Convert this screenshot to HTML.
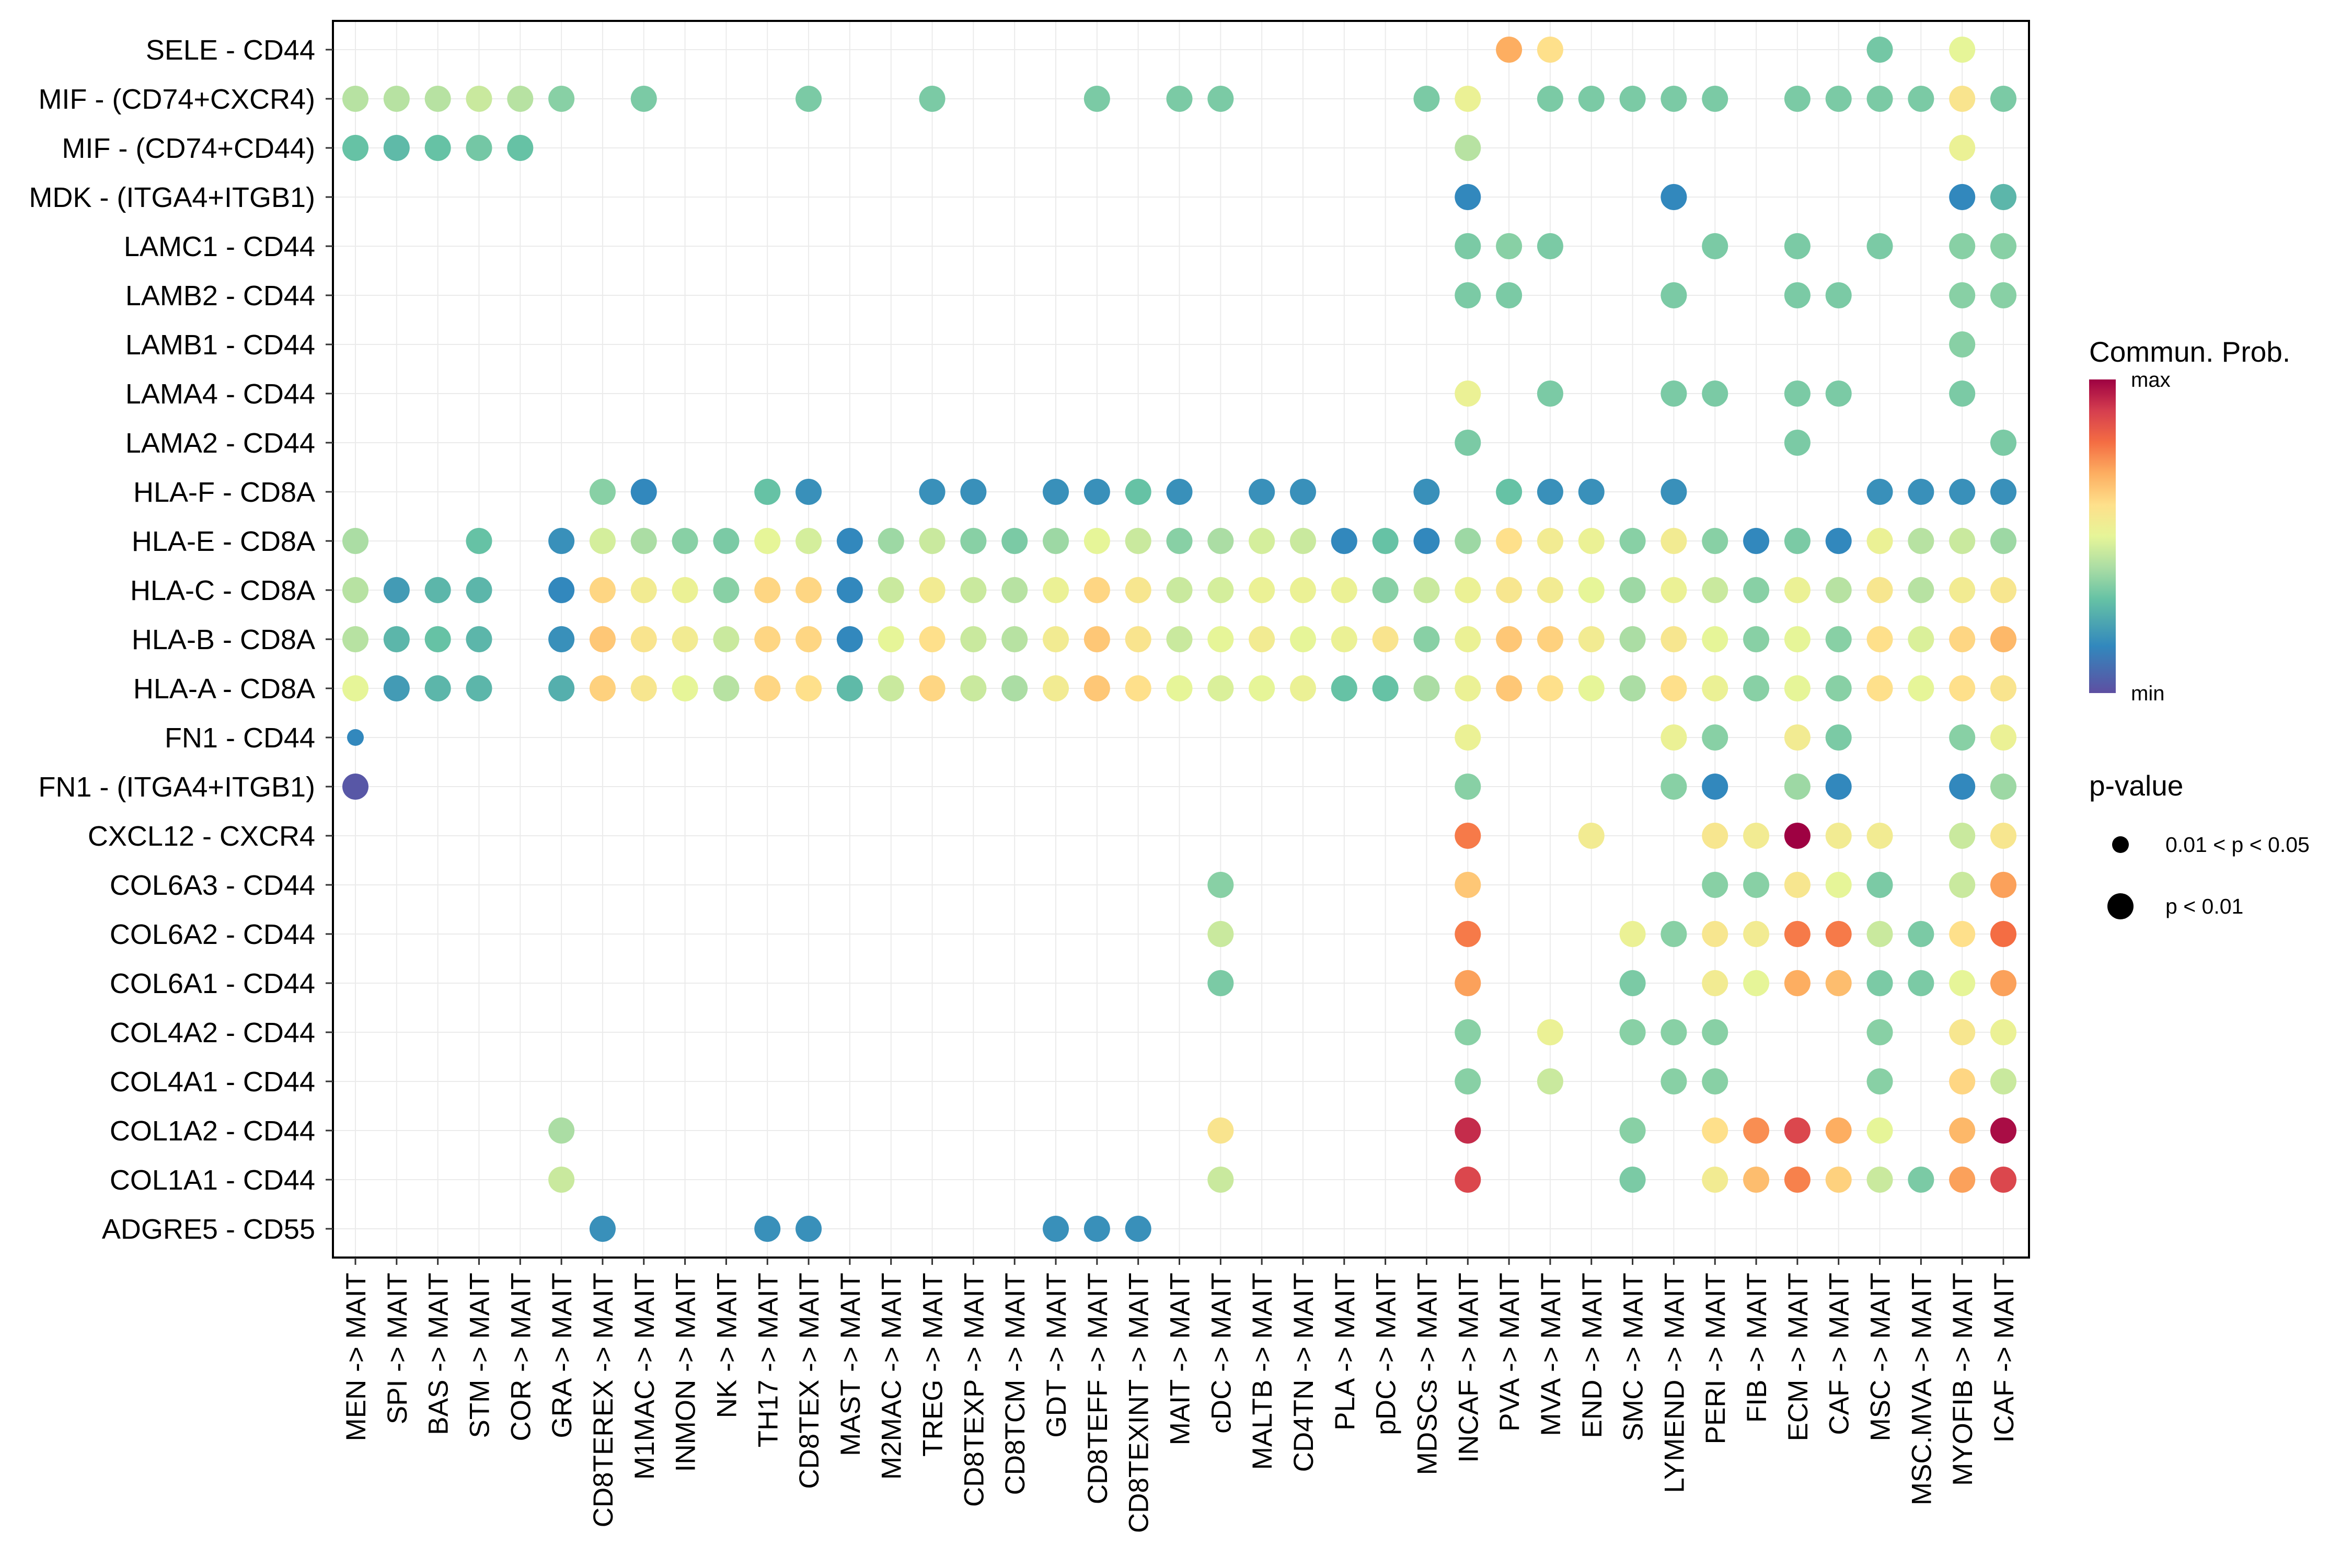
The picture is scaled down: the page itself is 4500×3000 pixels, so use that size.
<!DOCTYPE html>
<html><head><meta charset="utf-8"><style>html,body{margin:0;padding:0;background:#fff}svg{display:block}</style></head>
<body>
<svg id="chart" width="4500" height="3000" viewBox="0 0 4500 3000" xmlns="http://www.w3.org/2000/svg" font-family="Liberation Sans, sans-serif">
<defs>
<linearGradient id="cbar" x1="0" y1="1" x2="0" y2="0">
<stop offset="0" stop-color="#5E4FA2"/><stop offset="0.15" stop-color="#3288BD"/><stop offset="0.3" stop-color="#66C2A5"/><stop offset="0.4" stop-color="#ABDDA4"/><stop offset="0.5" stop-color="#E6F598"/><stop offset="0.6" stop-color="#FEE08B"/><stop offset="0.7" stop-color="#FDAE61"/><stop offset="0.8" stop-color="#F46D43"/><stop offset="0.9" stop-color="#D53E4F"/><stop offset="1" stop-color="#9E0142"/>
</linearGradient>
</defs>
<g id="grid"></g>
<g id="dots"></g>
<rect x="637" y="40" width="3245" height="2366" fill="none" stroke="#000" stroke-width="4"/>
<g id="ylabels"></g>
<g id="xlabels"></g>
<g>
<text x="3997" y="692" font-size="55">Commun. Prob.</text>
<rect x="3997" y="726" width="51" height="600" fill="url(#cbar)"/>
<text x="4077" y="740" font-size="40">max</text>
<text x="4077" y="1340" font-size="40">min</text>
<text x="3997" y="1522" font-size="55">p-value</text>
<circle cx="4057" cy="1616" r="16" fill="#000"/>
<text x="4143" y="1630" font-size="41">0.01 &lt; p &lt; 0.05</text>
<circle cx="4057" cy="1734" r="25" fill="#000"/>
<text x="4143" y="1748" font-size="41">p &lt; 0.01</text>
</g>
</svg>
<script>
const columns = ["MEN","SPI","BAS","STM","COR","GRA","CD8TEREX","M1MAC","INMON","NK","TH17","CD8TEX","MAST","M2MAC","TREG","CD8TEXP","CD8TCM","GDT","CD8TEFF","CD8TEXINT","MAIT","cDC","MALTB","CD4TN","PLA","pDC","MDSCs","INCAF","PVA","MVA","END","SMC","LYMEND","PERI","FIB","ECM","CAF","MSC","MSC.MVA","MYOFIB","ICAF"];
const rows = ["SELE - CD44","MIF - (CD74+CXCR4)","MIF - (CD74+CD44)","MDK - (ITGA4+ITGB1)","LAMC1 - CD44","LAMB2 - CD44","LAMB1 - CD44","LAMA4 - CD44","LAMA2 - CD44","HLA-F - CD8A","HLA-E - CD8A","HLA-C - CD8A","HLA-B - CD8A","HLA-A - CD8A","FN1 - CD44","FN1 - (ITGA4+ITGB1)","CXCL12 - CXCR4","COL6A3 - CD44","COL6A2 - CD44","COL6A1 - CD44","COL4A2 - CD44","COL4A1 - CD44","COL1A2 - CD44","COL1A1 - CD44","ADGRE5 - CD55"];
const rowSELE = [[28,0.7],[29,0.6],[37,0.32],[39,0.5]];
const rowMIFcxcr4 = [[0,0.42],[1,0.42],[2,0.42],[3,0.45],[4,0.42],[5,0.35],[7,0.33],[11,0.33],[14,0.33],[18,0.33],[20,0.33],[21,0.33],[26,0.33],[27,0.52],[29,0.33],[30,0.33],[31,0.33],[32,0.33],[33,0.33],[35,0.33],[36,0.33],[37,0.33],[38,0.33],[39,0.58],[40,0.33]];
const rowMIFcd44 = [[0,0.3],[1,0.28],[2,0.3],[3,0.32],[4,0.3],[27,0.42],[39,0.52]];
const rowMDK = [[27,0.15],[32,0.15],[39,0.15],[40,0.27]];
const rowLAMC1 = [[27,0.33],[28,0.35],[29,0.33],[33,0.33],[35,0.33],[37,0.33],[39,0.35],[40,0.35]];
const rowLAMB2 = [[27,0.33],[28,0.33],[32,0.33],[35,0.33],[36,0.33],[39,0.35],[40,0.35]];
const rowLAMB1 = [[39,0.35]];
const rowLAMA4 = [[27,0.52],[29,0.33],[32,0.33],[33,0.33],[35,0.33],[36,0.33],[39,0.33]];
const rowLAMA2 = [[27,0.33],[35,0.33],[40,0.33]];
const rowHLAF = [[6,0.35],[7,0.15],[10,0.3],[11,0.17],[14,0.17],[15,0.17],[17,0.17],[18,0.17],[19,0.3],[20,0.17],[22,0.17],[23,0.17],[26,0.17],[28,0.3],[29,0.17],[30,0.17],[32,0.17],[37,0.17],[38,0.17],[39,0.17],[40,0.17]];
const rowHLAE = [[0,0.4],[3,0.3],[5,0.17],[6,0.47],[7,0.4],[8,0.35],[9,0.33],[10,0.5],[11,0.47],[12,0.15],[13,0.38],[14,0.45],[15,0.35],[16,0.33],[17,0.38],[18,0.5],[19,0.45],[20,0.35],[21,0.4],[22,0.47],[23,0.45],[24,0.15],[25,0.3],[26,0.15],[27,0.38],[28,0.6],[29,0.55],[30,0.52],[31,0.35],[32,0.55],[33,0.35],[34,0.15],[35,0.33],[36,0.15],[37,0.52],[38,0.42],[39,0.45],[40,0.38]];
const rowHLAC = [[0,0.42],[1,0.2],[2,0.27],[3,0.27],[5,0.15],[6,0.62],[7,0.55],[8,0.52],[9,0.35],[10,0.62],[11,0.62],[12,0.15],[13,0.45],[14,0.55],[15,0.45],[16,0.42],[17,0.52],[18,0.62],[19,0.57],[20,0.45],[21,0.47],[22,0.52],[23,0.52],[24,0.52],[25,0.35],[26,0.45],[27,0.52],[28,0.57],[29,0.55],[30,0.5],[31,0.38],[32,0.52],[33,0.45],[34,0.35],[35,0.52],[36,0.42],[37,0.57],[38,0.42],[39,0.55],[40,0.57]];
const rowHLAB = [[0,0.42],[1,0.27],[2,0.3],[3,0.27],[5,0.17],[6,0.65],[7,0.58],[8,0.55],[9,0.45],[10,0.62],[11,0.62],[12,0.15],[13,0.5],[14,0.6],[15,0.45],[16,0.42],[17,0.55],[18,0.65],[19,0.58],[20,0.45],[21,0.5],[22,0.55],[23,0.5],[24,0.52],[25,0.58],[26,0.35],[27,0.52],[28,0.65],[29,0.63],[30,0.55],[31,0.4],[32,0.57],[33,0.5],[34,0.35],[35,0.5],[36,0.35],[37,0.6],[38,0.48],[39,0.62],[40,0.68]];
const rowHLAA = [[0,0.5],[1,0.2],[2,0.27],[3,0.27],[5,0.25],[6,0.63],[7,0.57],[8,0.5],[9,0.42],[10,0.62],[11,0.6],[12,0.28],[13,0.45],[14,0.62],[15,0.45],[16,0.4],[17,0.55],[18,0.65],[19,0.6],[20,0.5],[21,0.48],[22,0.5],[23,0.52],[24,0.3],[25,0.3],[26,0.4],[27,0.52],[28,0.65],[29,0.6],[30,0.5],[31,0.4],[32,0.6],[33,0.52],[34,0.35],[35,0.5],[36,0.35],[37,0.6],[38,0.5],[39,0.6],[40,0.58]];
const rowFN1cd44 = [[0,0.15],[27,0.52],[32,0.52],[33,0.35],[35,0.55],[36,0.33],[39,0.35],[40,0.52]];
const rowFN1itga = [[0,0.02],[27,0.35],[32,0.35],[33,0.15],[35,0.38],[36,0.15],[39,0.15],[40,0.38]];
const rowCXCL12 = [[27,0.78],[30,0.55],[33,0.57],[34,0.55],[35,1.0],[36,0.55],[37,0.55],[39,0.45],[40,0.57]];
const rowCOL6A3 = [[21,0.35],[27,0.65],[33,0.35],[34,0.35],[35,0.57],[36,0.5],[37,0.33],[39,0.45],[40,0.72]];
const rowCOL6A2 = [[21,0.45],[27,0.78],[31,0.52],[32,0.35],[33,0.57],[34,0.55],[35,0.78],[36,0.78],[37,0.45],[38,0.33],[39,0.6],[40,0.8]];
const rowCOL6A1 = [[21,0.33],[27,0.72],[31,0.33],[33,0.55],[34,0.5],[35,0.7],[36,0.67],[37,0.33],[38,0.33],[39,0.5],[40,0.72]];
const rowCOL4A2 = [[27,0.35],[29,0.52],[31,0.35],[32,0.35],[33,0.35],[37,0.35],[39,0.57],[40,0.52]];
const rowCOL4A1 = [[27,0.35],[29,0.45],[32,0.35],[33,0.35],[37,0.35],[39,0.62],[40,0.45]];
const rowCOL1A2 = [[5,0.4],[21,0.58],[27,0.93],[31,0.35],[33,0.6],[34,0.75],[35,0.88],[36,0.7],[37,0.5],[39,0.68],[40,0.98]];
const rowCOL1A1 = [[5,0.45],[21,0.45],[27,0.88],[31,0.33],[33,0.55],[34,0.67],[35,0.77],[36,0.63],[37,0.45],[38,0.33],[39,0.72],[40,0.88]];
const rowADGRE5 = [[6,0.17],[10,0.17],[11,0.17],[17,0.17],[18,0.17],[19,0.17]];
const allRows = [rowSELE,rowMIFcxcr4,rowMIFcd44,rowMDK,rowLAMC1,rowLAMB2,rowLAMB1,rowLAMA4,rowLAMA2,rowHLAF,rowHLAE,rowHLAC,rowHLAB,rowHLAA,rowFN1cd44,rowFN1itga,rowCXCL12,rowCOL6A3,rowCOL6A2,rowCOL6A1,rowCOL4A2,rowCOL4A1,rowCOL1A2,rowCOL1A1,rowADGRE5];
const smallDots = [[14,0]];

const NS="http://www.w3.org/2000/svg";
const X0=680, DX=(3833-680)/40, Y0=95, DY=(2351-95)/24;
const xs=i=>X0+i*DX, ys=j=>Y0+j*DY;
const stops=[[0,[94,79,162]],[0.15,[50,136,189]],[0.3,[102,194,165]],[0.4,[171,221,164]],[0.5,[230,245,152]],[0.6,[254,224,139]],[0.7,[253,174,97]],[0.8,[244,109,67]],[0.9,[213,62,79]],[1,[158,1,66]]];
function col(v){for(let k=1;k<stops.length;k++){if(v<=stops[k][0]){const a=stops[k-1],b=stops[k],t=(v-a[0])/(b[0]-a[0]);return "rgb("+a[1].map((c,i)=>Math.round(c+(b[1][i]-c)*t)).join(",")+")";}}return "rgb(158,1,66)";}
function mk(t,attrs,parent){const e=document.createElementNS(NS,t);for(const k in attrs)e.setAttribute(k,attrs[k]);parent.appendChild(e);return e;}
const grid=document.getElementById('grid'),dots=document.getElementById('dots'),yl=document.getElementById('ylabels'),xl=document.getElementById('xlabels');
columns.forEach((c,i)=>{
  const l=mk('line',{x1:xs(i),x2:xs(i),y1:40,y2:2406,stroke:'#ebebeb','stroke-width':2},grid);
  
  
  const tk=mk('line',{x1:xs(i),x2:xs(i),y1:2406,y2:2420,stroke:'#333','stroke-width':3},xl);
  
  
  const t=mk('text',{x:0,y:0,'font-size':53,'text-anchor':'end',transform:`translate(${xs(i)+19},2435) rotate(-90)`},xl);
  t.textContent=c+" -> MAIT";
  
  
});
rows.forEach((r,j)=>{
  const l=mk('line',{x1:637,x2:3882,y1:ys(j),y2:ys(j),stroke:'#ebebeb','stroke-width':2},grid);
  
  
  const tk=mk('line',{x1:623,x2:637,y1:ys(j),y2:ys(j),stroke:'#333','stroke-width':3},yl);
  
  
  const t=mk('text',{x:603,y:ys(j)+19,'font-size':54,'text-anchor':'end'},yl);
  t.textContent=r;
  
  
});
allRows.forEach((arr,j)=>{
  arr.forEach(([i,v])=>{
    const small=smallDots.some(s=>s[0]===j&&s[1]===i);
    const c=mk('circle',{cx:xs(i),cy:ys(j),r:small?16:25,fill:col(v)},dots);
    
    
  });
});
</script>
</body></html>
